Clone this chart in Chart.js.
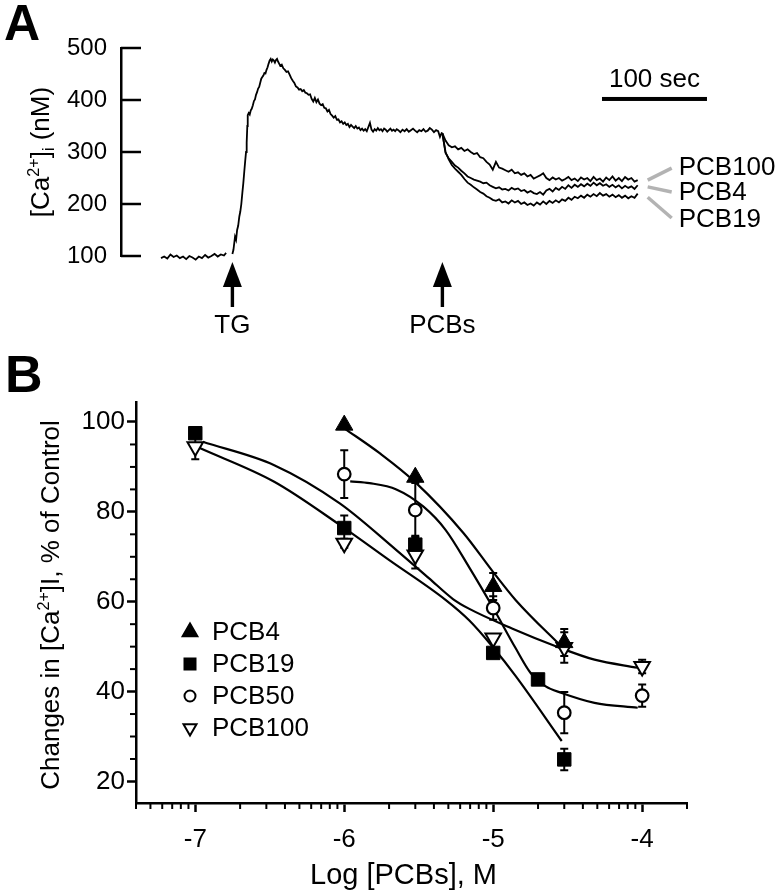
<!DOCTYPE html>
<html>
<head>
<meta charset="utf-8">
<script src="https://cdn.jsdelivr.net/npm/chart.js@4.4.1/dist/chart.umd.min.js"></script>
<style>
  html, body { margin: 0; padding: 0; background: #fff; }
  #page { position: relative; width: 780px; height: 893px; }
  canvas { position: absolute; left: 0; }
  #panelA { top: 0; }
  #panelB { top: 345px; }
</style>
</head>
<body>
<div id="page">
  <canvas id="panelA" width="780" height="345"></canvas>
  <canvas id="panelB" width="780" height="548"></canvas>
</div>
<script>
const FONT = '"Liberation Sans", Arial, Helvetica, sans-serif';
Chart.defaults.font.family = FONT;
Chart.defaults.color = "#000";

// ---------- PANEL A DATA (time in sec, [Ca2+]i in nM) ----------
const caTicks = [100, 200, 300, 400, 500];
const tgTime = 68;
const pcbTime = 268;

// trace before PCB addition: [sec, nM]
const mainTrace = [
  [0, 96], [3, 99], [6, 95], [9, 103], [12, 98], [15, 101], [18, 96], [21, 99], [24, 94],
  [27, 100], [30, 97], [33, 93], [36, 99], [39, 96], [42, 102], [45, 97], [48, 100],
  [51, 104], [54, 99], [57, 103], [60, 101], [62, 106], [65, null],
  [68, 104], [69, 112], [70.5, 137], [71.5, 131], [72.5, 150], [73.5, 158], [74.6, 176],
  [75.5, 185], [76.5, 200], [77.5, 222], [78.4, 240], [79.3, 262], [80.2, 283], [81, 300],
  [81.6, 318], [82.2, 350], [82.6, 371], [83.5, 375], [84.5, 372], [85.5, 380], [86.4, 383],
  [87.5, 390], [88.5, 398], [89.5, 401], [90.5, 410], [91.5, 415], [92.5, 422], [93.5, 425],
  [94.5, 433], [95.5, 441], [96.5, 444], [97.5, 447], [98.5, 452], [99.5, 451], [100.5, 458],
  [101.5, 463], [102.5, 470], [103.5, 476], [104.5, 479], [105.5, 474], [106.5, 478],
  [107.5, 476], [108.5, 472], [109.5, 477], [110.5, 479], [111.5, 474], [112.5, 470],
  [113.5, 466], [115, 468], [116.5, 461], [118, 458], [119.5, 454], [121, 455], [122.5, 449],
  [124, 442], [125.5, 437], [127, 433], [128.5, 426], [130, 424], [131.5, 420], [133, 421],
  [134.5, 417], [136, 419], [137.5, 414], [139, 413], [140.5, 410], [142, 411], [143.5, 402],
  [145, 397], [146.5, 404], [148, 396], [149.5, 401], [151, 393], [152.5, 390], [154, 392],
  [155.5, 385], [157, 384], [158.5, 378], [160, 381], [161.5, 373], [163, 370], [164.5, 366],
  [166, 369], [167.5, 362], [169, 363], [170.5, 357], [172, 359], [173.5, 354], [175, 357],
  [176.5, 352], [178, 354], [179.5, 348], [181, 352], [182.5, 349], [184, 346], [185.5, 350],
  [187, 345], [188.5, 347], [190, 342], [191.5, 345], [193, 341], [194.5, 344], [196, 340],
  [197.5, 348], [199, 356], [200.5, 343], [202, 339], [203.5, 344], [205, 341], [206.5, 346],
  [208, 342], [209.5, 344], [211, 340], [212.5, 345], [214, 343], [215.5, 339], [217, 342],
  [218.5, 345], [220, 341], [221.5, 343], [223, 340], [224.5, 344], [226, 342], [228, 338],
  [230, 343], [232, 340], [234, 344], [236, 339], [238, 342], [240, 345], [242, 341],
  [244, 338], [246, 342], [248, 340], [250, 344], [252, 339], [254, 341], [256, 346],
  [258, 343], [260, 338], [262, 342], [264, 340], [265.7, 329], [267.6, 338]
];

// traces after PCB addition (shared time axis)
const branchT = [
  268, 271, 274, 277, 280, 283, 286, 289, 292,
  295, 298, 301, 304, 307, 310, 313, 316, 319,
  322, 325, 328, 331, 334, 337, 340, 343, 346,
  349, 352, 355, 358, 361, 364, 367, 370, 373,
  376, 379, 382, 385, 388, 391, 394, 397, 400,
  403, 406, 409, 412, 415, 418, 421, 424, 427,
  430, 433, 436, 439, 442, 445, 448, 451, 454
];
const tracePCB100 = [
  336, 322, 313, 309, 311, 305, 308, 302, 305,
  300, 296, 298, 290, 288, 281, 276, 266, 281,
  270, 268, 265, 262, 266, 259, 261, 256, 259,
  253, 256, 249, 252, 255, 259, 250, 246, 251,
  247, 250, 245, 248, 252, 246, 249, 244, 251,
  247, 250, 244, 252, 246, 249, 243, 251, 246,
  253, 245, 250, 244, 252, 247, 250, 243, 246
];
const tracePCB4 = [
  336, 298, 288, 281, 274, 270, 264, 259, 253,
  250, 247, 245, 243, 240, 241, 236, 233, 230,
  232, 228, 229, 226, 231, 228, 230, 225, 227,
  222, 225, 221, 219, 223, 218, 226, 229, 224,
  231, 227, 233, 229, 236, 231, 237, 233, 238,
  234, 239, 235, 241, 236, 240, 235, 238, 233,
  237, 232, 236, 230, 235, 231, 234, 229, 236
];
const tracePCB19 = [
  336, 300, 286, 275, 268, 262, 256, 248, 241,
  237, 232, 228, 223, 220, 215, 212, 208, 206,
  209, 203, 205, 201, 207, 203, 206, 200, 203,
  198, 201, 197, 203, 199, 205, 200, 206, 202,
  207, 203, 209, 206, 212, 208, 214, 211, 216,
  212, 218, 214, 219, 215, 221, 216, 219, 214,
  218, 213, 217, 212, 216, 211, 215, 212, 220
];

// ---------- PANEL B DATA (log M, % of control) ----------
const logMajor = [-7, -6, -5, -4];
const pctMajor = [20, 40, 60, 80, 100];

const pcb4LogC = [-6, -5.523, -5, -4.523];
const pcb4Mean = [99.3, 87.7, 63.4, 50.9];
const pcb4Sem = [0, 0, 3.0, 3.0];

const pcb19LogC = [-7, -6, -5.523, -5, -4.699, -4.523];
const pcb19Mean = [97.5, 76.4, 72.7, 48.6, 42.7, 24.9];
const pcb19Sem = [0, 2.8, 2.0, 0, 0, 2.4];

const pcb50LogC = [-6, -5.523, -5, -4.523, -4];
const pcb50Mean = [88.4, 80.4, 58.6, 35.3, 39.1];
const pcb50Sem = [5.3, 6.0, 2.6, 4.6, 2.5];

const pcb100LogC = [-7, -6, -5.523, -5, -4.523, -4];
const pcb100Mean = [94.5, 73.0, 70.4, 51.9, 49.8, 45.6];
const pcb100Sem = [2.8, 1.0, 3.0, 0, 3.4, 1.5];

// fitted curves
const pcb4FitX = [-6.0, -5.76, -5.52, -5.2, -5.0, -4.85, -4.52];
const pcb4FitY = [98.6, 93.0, 86.5, 75.3, 66.6, 60.4, 49.3];
const pcb19FitX = [-6.97, -6.47, -6.03, -5.70, -5.32, -5.16, -5.0, -4.85, -4.54];
const pcb19FitY = [94.2, 86.7, 77.1, 69.3, 60.4, 55.8, 49.8, 43.5, 29.0];
const pcb50FitX = [-5.96, -5.83, -5.65, -5.47, -5.32, -5.16, -5.0, -4.85, -4.75, -4.65, -4.54, -4.32, -4.03];
const pcb50FitY = [86.8, 86.4, 85.0, 81.2, 76.0, 67.6, 58.6, 49.7, 44.2, 41.2, 39.7, 37.5, 36.4];
const pcb100FitX = [-6.95, -6.47, -6.03, -5.65, -5.43, -5.27, -5.16, -4.87, -4.58, -4.32, -4.03];
const pcb100FitY = [95.6, 90.4, 81.9, 71.5, 65.2, 60.6, 58.4, 54.0, 50.1, 47.1, 45.3];

function toPts(xs, ys) {
    return xs.map((x, i) => ({ x: x, y: ys[i] }));
}

// text with super/subscripts, centred on (cx, cy)
function drawRich(ctx, runs, cx, cy, size, rotate) {
    ctx.save();
    ctx.translate(cx, cy);
    if (rotate) ctx.rotate(-Math.PI / 2);
    let total = 0;
    runs.forEach(r => {
        ctx.font = (r.s ? size * 0.62 : size) + "px " + FONT;
        total += ctx.measureText(r.t).width;
    });
    let x = -total / 2;
    ctx.textBaseline = "alphabetic";
    ctx.textAlign = "left";
    ctx.fillStyle = "#000";
    runs.forEach(r => {
        const fs = r.s ? size * 0.62 : size;
        ctx.font = fs + "px " + FONT;
        const dy = r.s === "sup" ? -size * 0.4 : (r.s === "sub" ? size * 0.18 : 0);
        ctx.fillText(r.t, x, size * 0.36 + dy);
        x += ctx.measureText(r.t).width;
    });
    ctx.restore();
}

function drawMarker(ctx, style, x, y, r, filled) {
    ctx.beginPath();
    if (style === "triangle") {
        ctx.moveTo(x, y - r);
        ctx.lineTo(x + r * 0.866, y + r * 0.5);
        ctx.lineTo(x - r * 0.866, y + r * 0.5);
    } else if (style === "triangleDown") {
        ctx.moveTo(x, y + r);
        ctx.lineTo(x + r * 0.866, y - r * 0.5);
        ctx.lineTo(x - r * 0.866, y - r * 0.5);
    } else if (style === "rect") {
        ctx.rect(x - r, y - r, 2 * r, 2 * r);
    } else {
        ctx.arc(x, y, r, 0, Math.PI * 2);
    }
    ctx.closePath();
    ctx.fillStyle = filled ? "#000" : "#fff";
    ctx.fill();
    ctx.lineWidth = 2;
    ctx.strokeStyle = "#000";
    ctx.stroke();
}

// ---------- PANEL A ----------
function arrowUp(ctx, x, tipY) {
    ctx.fillStyle = "#000";
    ctx.beginPath();
    ctx.moveTo(x, tipY);
    ctx.lineTo(x - 9.5, tipY + 25);
    ctx.lineTo(x + 9.5, tipY + 25);
    ctx.closePath();
    ctx.fill();
    ctx.fillRect(x - 1.7, tipY + 22, 3.4, 23);
}

const panelAExtras = {
    id: "panelAExtras",
    afterDraw(chart) {
        const { ctx, chartArea } = chart;
        const xs = chart.scales.x;
        const ys = chart.scales.y;
        ctx.save();

        // inward y ticks
        ctx.strokeStyle = "#000";
        ctx.lineWidth = 2.5;
        caTicks.forEach(v => {
            const py = ys.getPixelForValue(v);
            ctx.beginPath();
            ctx.moveTo(chartArea.left, py);
            ctx.lineTo(chartArea.left + 20, py);
            ctx.stroke();
        });

        // arrows + labels
        const tipY = chartArea.bottom + 6;
        [[tgTime, "TG"], [pcbTime, "PCBs"]].forEach(([t, label]) => {
            const px = xs.getPixelForValue(t);
            arrowUp(ctx, px, tipY);
            ctx.font = "26px " + FONT;
            ctx.textAlign = "center";
            ctx.textBaseline = "alphabetic";
            ctx.fillText(label, px, chartArea.bottom + 77);
        });

        // 100 sec scale bar
        const bx0 = xs.getPixelForValue(420);
        const bx1 = xs.getPixelForValue(520);
        const by = ys.getPixelForValue(402);
        ctx.fillRect(bx0, by - 2, bx1 - bx0, 4);
        ctx.font = "26px " + FONT;
        ctx.textAlign = "center";
        ctx.fillText("100 sec", (bx0 + bx1) / 2, by - 12);

        // grey leaders + trace labels
        const endX = xs.getPixelForValue(branchT[branchT.length - 1]);
        const leaders = [
            ["PCB100", 246, 269, 271],
            ["PCB4", 233, 223, 223],
            ["PCB19", 213, 173, 171]
        ];
        ctx.strokeStyle = "#b3b3b3";
        ctx.lineWidth = 3.5;
        leaders.forEach(([label, v0, v1, vl]) => {
            ctx.beginPath();
            ctx.moveTo(endX + 10, ys.getPixelForValue(v0));
            ctx.lineTo(endX + 34, ys.getPixelForValue(v1));
            ctx.stroke();
            ctx.fillStyle = "#000";
            ctx.font = "26px " + FONT;
            ctx.textAlign = "left";
            ctx.textBaseline = "middle";
            ctx.fillText(label, endX + 41, ys.getPixelForValue(vl) + 1);
        });

        // axis title
        drawRich(ctx, [
            { t: "[Ca" }, { t: "2+", s: "sup" }, { t: "]" }, { t: "i", s: "sub" }, { t: " (nM)" }
        ], 40, (chartArea.top + chartArea.bottom) / 2, 26, true);

        // panel letter
        ctx.fillStyle = "#000";
        ctx.font = "bold 50px " + FONT;
        ctx.textAlign = "left";
        ctx.textBaseline = "alphabetic";
        ctx.fillText("A", 4, 40);
        ctx.restore();
    }
};

const lineStyle = {
    borderColor: "#000",
    borderWidth: 1.8,
    pointRadius: 0,
    tension: 0,
    clip: false,
    spanGaps: false
};

new Chart(document.getElementById("panelA"), {
    type: "line",
    data: {
        datasets: [
            Object.assign({ data: mainTrace.map(p => ({ x: p[0], y: p[1] })) }, lineStyle),
            Object.assign({ data: toPts(branchT, tracePCB100) }, lineStyle),
            Object.assign({ data: toPts(branchT, tracePCB4) }, lineStyle),
            Object.assign({ data: toPts(branchT, tracePCB19) }, lineStyle)
        ]
    },
    options: {
        responsive: false,
        animation: false,
        events: [],
        layout: { padding: { left: 0, right: 20, top: 48, bottom: 89 } },
        plugins: { legend: { display: false }, tooltip: { enabled: false } },
        scales: {
            x: { type: "linear", display: false, min: -38.1, max: 570.5 },
            y: {
                min: 100,
                max: 500,
                afterFit(s) { s.width = 121; },
                afterBuildTicks(s) { s.ticks = caTicks.map(v => ({ value: v })); },
                grid: { display: false },
                border: { display: true, color: "#000", width: 2.5 },
                ticks: { padding: 6, color: "#000", font: { size: 24 } }
            }
        }
    },
    plugins: [panelAExtras]
});

// ---------- PANEL B ----------
const errorBars = {
    id: "errorBars",
    beforeDatasetsDraw(chart) {
        const { ctx } = chart;
        const xs = chart.scales.x;
        const ys = chart.scales.y;
        ctx.save();
        ctx.strokeStyle = "#000";
        ctx.lineWidth = 2;
        chart.data.datasets.forEach(ds => {
            if (!ds.errors) return;
            ds.data.forEach((p, i) => {
                const e = ds.errors[i];
                if (!e) return;
                const px = xs.getPixelForValue(p.x);
                const top = ys.getPixelForValue(p.y + e);
                const bot = ys.getPixelForValue(p.y - e);
                ctx.beginPath();
                ctx.moveTo(px, top); ctx.lineTo(px, bot);
                ctx.moveTo(px - 4, top); ctx.lineTo(px + 4, top);
                ctx.moveTo(px - 4, bot); ctx.lineTo(px + 4, bot);
                ctx.stroke();
            });
        });
        ctx.restore();
    }
};

const panelBExtras = {
    id: "panelBExtras",
    afterDraw(chart) {
        const { ctx, chartArea } = chart;
        const xs = chart.scales.x;
        const ys = chart.scales.y;
        ctx.save();
        ctx.strokeStyle = "#000";
        ctx.lineWidth = 2;

        // minor x ticks at 2..9 x 10^n
        for (let n = -8; n <= -4; n++) {
            for (let k = 2; k <= 9; k++) {
                const v = n + Math.log10(k);
                if (v < xs.min - 1e-6 || v > xs.max + 1e-6) continue;
                const px = xs.getPixelForValue(v);
                ctx.beginPath();
                ctx.moveTo(px, chartArea.bottom);
                ctx.lineTo(px, chartArea.bottom + 6);
                ctx.stroke();
            }
        }
        // minor y ticks every 5
        for (let v = 25; v <= 95; v += 5) {
            if (pctMajor.includes(v)) continue;
            const py = ys.getPixelForValue(v);
            ctx.beginPath();
            ctx.moveTo(chartArea.left, py);
            ctx.lineTo(chartArea.left - 6, py);
            ctx.stroke();
        }

        // legend
        const legend = [
            ["PCB4", "triangle", 8.5, true],
            ["PCB19", "rect", 5.5, true],
            ["PCB50", "circle", 5.5, false],
            ["PCB100", "triangleDown", 7.5, false]
        ];
        legend.forEach(([label, style, r, filled], i) => {
            const ly = chartArea.top + 230 + i * 32;
            drawMarker(ctx, style, chartArea.left + 54, ly, r, filled);
            ctx.fillStyle = "#000";
            ctx.font = "26px " + FONT;
            ctx.textAlign = "left";
            ctx.textBaseline = "middle";
            ctx.fillText(label, chartArea.left + 76, ly + 1);
        });

        // axis titles
        drawRich(ctx, [
            { t: "Changes in [Ca" }, { t: "2+", s: "sup" }, { t: "]I, % of Control" }
        ], 50, 260, 26, true);
        drawRich(ctx, [{ t: "Log [PCBs], M" }], (chartArea.left + chartArea.right) / 2 - 8, 529, 29, false);

        // panel letter
        ctx.fillStyle = "#000";
        ctx.font = "bold 52px " + FONT;
        ctx.textAlign = "left";
        ctx.textBaseline = "alphabetic";
        ctx.fillText("B", 5, 47);
        ctx.restore();
    }
};

const fitStyle = {
    showLine: true,
    borderColor: "#000",
    borderWidth: 2.2,
    pointRadius: 0,
    cubicInterpolationMode: "monotone",
    order: 2
};

new Chart(document.getElementById("panelB"), {
    type: "scatter",
    data: {
        datasets: [
            Object.assign({ data: toPts(pcb4FitX, pcb4FitY) }, fitStyle),
            Object.assign({ data: toPts(pcb19FitX, pcb19FitY) }, fitStyle),
            Object.assign({ data: toPts(pcb50FitX, pcb50FitY) }, fitStyle),
            Object.assign({ data: toPts(pcb100FitX, pcb100FitY) }, fitStyle),
            {
                label: "PCB4", data: toPts(pcb4LogC, pcb4Mean), errors: pcb4Sem, order: 1,
                pointStyle: "triangle", pointRadius: 10, pointBackgroundColor: "#000",
                pointBorderColor: "#000", pointBorderWidth: 1
            },
            {
                label: "PCB19", data: toPts(pcb19LogC, pcb19Mean), errors: pcb19Sem, order: 1,
                pointStyle: "rect", pointRadius: 9.5, pointBackgroundColor: "#000",
                pointBorderColor: "#000", pointBorderWidth: 1
            },
            {
                label: "PCB50", data: toPts(pcb50LogC, pcb50Mean), errors: pcb50Sem, order: 1,
                pointStyle: "circle", pointRadius: 6.3, pointBackgroundColor: "#fff",
                pointBorderColor: "#000", pointBorderWidth: 2.2
            },
            {
                label: "PCB100", data: toPts(pcb100LogC, pcb100Mean), errors: pcb100Sem, order: 1,
                pointStyle: "triangle", pointRotation: 180, pointRadius: 9, pointBackgroundColor: "#fff",
                pointBorderColor: "#000", pointBorderWidth: 2
            }
        ]
    },
    options: {
        responsive: false,
        animation: false,
        events: [],
        layout: { padding: { left: 0, right: 93, top: 57, bottom: 0 } },
        plugins: { legend: { display: false }, tooltip: { enabled: false } },
        scales: {
            x: {
                type: "linear",
                min: Math.log10(4e-8),
                max: Math.log10(2e-4),
                afterFit(s) { s.height = 90; },
                afterBuildTicks(s) { s.ticks = logMajor.map(v => ({ value: v })); },
                grid: { drawOnChartArea: false, drawTicks: true, tickLength: 9, tickWidth: 2.5, tickColor: "#000" },
                border: { color: "#000", width: 2.5 },
                ticks: { padding: 12, color: "#000", font: { size: 26 }, autoSkip: false, maxRotation: 0,
                         callback: v => String(v) }
            },
            y: {
                min: 15.2,
                max: 104.45,
                afterFit(s) { s.width = 136; },
                afterBuildTicks(s) { s.ticks = pctMajor.map(v => ({ value: v })); },
                grid: { drawOnChartArea: false, drawTicks: true, tickLength: 9, tickWidth: 2.5, tickColor: "#000" },
                border: { color: "#000", width: 2.5 },
                ticks: { padding: 2, color: "#000", font: { size: 26 }, callback: v => String(v) }
            }
        }
    },
    plugins: [errorBars, panelBExtras]
});
</script>
</body>
</html>
